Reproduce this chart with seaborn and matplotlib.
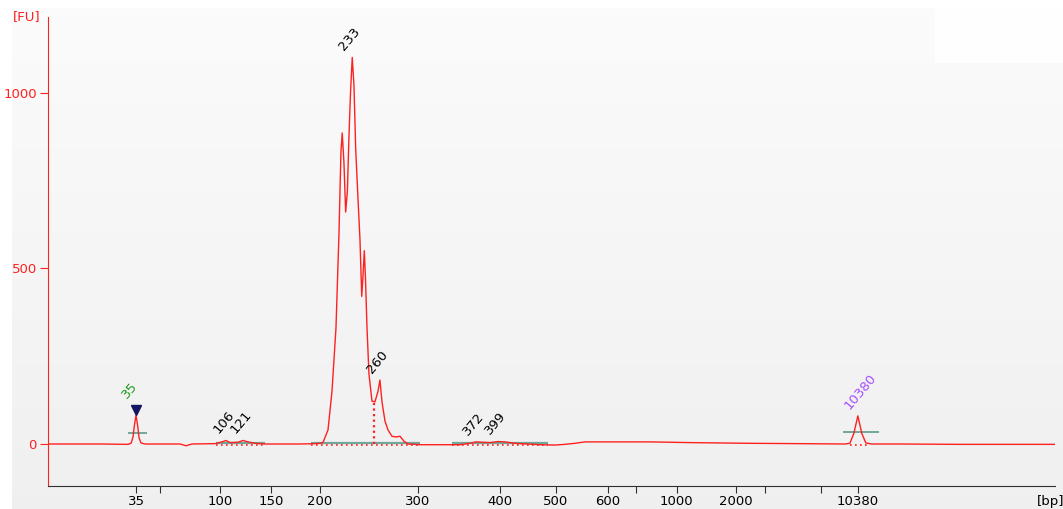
import numpy as np
import pandas as pd
import matplotlib
matplotlib.use("Agg")
import matplotlib.pyplot as plt
import seaborn as sns

# ladder: migratietijd (s) -> bp label (lege string = tick zonder label)
ladder_time = [43.0, 45.23, 50.80, 55.53, 60.08, 69.17, 76.78, 81.98, 86.80, 89.40, 93.20, 98.68, 101.37, 106.57, 110.0]
ladder_bp = ["35", "", "100", "150", "200", "300", "400", "500", "600", "", "1000", "2000", "", "", "10380"]

# elektroferogram (tijd in s, signaal in FU)
trace_time = [34.83, 39.66, 42.26, 42.54, 42.72, 42.86, 43.00, 43.14, 43.28, 43.46, 43.84,
              47.08, 47.64, 48.20, 50.33, 50.98, 51.35, 51.72, 52.47, 52.93, 53.39, 54.04, 54.97,
              58.22, 59.61, 60.08, 60.35, 60.82, 61.19, 61.56, 61.84, 62.02, 62.14, 62.30, 62.46,
              62.62, 62.77, 62.91, 63.07, 63.23, 63.39, 63.60, 63.79, 63.95, 64.07, 64.19, 64.30,
              64.44, 64.62, 64.90, 65.18, 65.46, 65.64, 65.83, 66.11, 66.39, 66.76, 67.13, 67.50,
              67.87, 68.24, 69.36, 73.07, 74.00, 74.55, 75.11, 75.85, 76.59, 77.24, 78.17, 80.49,
              81.88, 82.81, 83.74, 84.67, 90.70, 94.41, 99.98, 104.62, 108.80, 109.26, 109.63,
              110.00, 110.37, 110.74, 111.30, 113.90, 119.47, 128.28]
trace_fu = [0, 0, -1, 2, 20, 55, 82, 55, 18, 3, 0,
            0, -5, 0, 1, 6, 10, 4, 5, 10, 6, 2, 0,
            0, 1, 2, 4, 40, 150, 330, 600, 830, 885, 800, 660,
            720, 880, 1000, 1100, 1020, 840, 700, 580, 420, 480, 550, 470,
            330, 200, 122, 120, 150, 182, 120, 65, 40, 22, 20, 22,
            8, 0, -2, -2, 2, 6, 5, 4, 7, 6, 2, -2,
            -3, -1, 2, 6, 6, 4, 2, 1, 0, 2, 30,
            80, 30, 3, 0, 0, -1, -1]

# gelabelde pieken
peak_time = [43.0, 51.35, 52.93, 63.07, 65.64, 74.55, 76.59, 110.0]
peak_fu = [82, 10, 10, 1100, 182, 6, 7, 80]
peak_label = ["35", "106", "121", "233", "260", "372", "399", "10380"]
peak_color = ["#1f9a1f", "black", "black", "black", "black", "black", "black", "#a64dff"]

# integratie-regio's (start, eind)
region_start = [50.42, 59.24, 72.33]
region_end = [54.97, 69.36, 81.23]
marker_start = [42.26, 108.6]
marker_end = [44.02, 111.95]
marker_level = [31, 34]

df = pd.DataFrame({"time": trace_time, "fu": trace_fu})

sns.set_style("white")
plt.rcParams["font.family"] = ["DejaVu Sans"]

fig = plt.figure(figsize=(10.63, 5.09), dpi=100, facecolor="white")

# grijze achtergrond met lichte gradient
bg = fig.add_axes([12 / 1063, 0, 1, 1 - 8 / 509])
grad = np.linspace(0.985, 0.94, 100).reshape(-1, 1)
bg.imshow(np.dstack([grad, grad, grad]), aspect="auto", extent=[0, 1, 0, 1])
bg.axis("off")
fig.patches.append(plt.Rectangle((935 / 1063, 1 - 62 / 509), 1, 54 / 509,
                                 transform=fig.transFigure, color="#fefefe", zorder=0.5))

ax = fig.add_axes([48 / 1063, 1 - 486 / 509, (1055 - 48) / 1063, (486 - 17) / 509])
ax.set_facecolor("none")

sns.lineplot(data=df, x="time", y="fu", ax=ax, color="#ff2020", linewidth=1.0, sort=False)

# integratie-basislijnen
for s, e in zip(region_start, region_end):
    ax.hlines(2, s, e, color="#6fa898", linewidth=1.6, zorder=1)
    ax.hlines(-2, s, e, color="#ff2020", linewidth=1.2, linestyles=(0, (1, 2)), zorder=1)
for s, e, lv in zip(marker_start, marker_end, marker_level):
    ax.hlines(lv, s, e, color="#6fa898", linewidth=1.4, zorder=1)
ax.hlines(-2, 109.3, 111.1, color="#ff2020", linewidth=1.2, linestyles=(0, (1, 2)))
ax.vlines(65.09, 0, 125, color="#ff2020", linewidth=1.6, linestyles=(0, (1, 1.5)))

# lower marker driehoek
ax.plot(43.0, 97, marker="v", color="#141464", markersize=7)

for t, f, lab, c in zip(peak_time, peak_fu, peak_label, peak_color):
    dx, dy = (-5, 10) if lab == "35" else (-4, 3)
    ax.annotate(lab, (t, f), xytext=(dx, dy), textcoords="offset points", rotation=50,
                rotation_mode="anchor", ha="left", va="bottom", color=c, fontsize=9.5)

ax.set_xlim(34.83, 128.3)
ax.set_ylim(-119.5, 1215)
ax.set_xticks(ladder_time)
ax.set_xticklabels(ladder_bp)
ax.set_yticks([0, 500, 1000])
ax.set_xlabel("")
ax.set_ylabel("")

for side in ["top", "right"]:
    ax.spines[side].set_visible(False)
ax.spines["left"].set_color("#ff2020")
ax.spines["bottom"].set_color("#303030")
ax.tick_params(axis="y", colors="#ff2020", length=6, labelsize=9.5, direction="out", left=True, pad=2)
ax.tick_params(axis="x", colors="#303030", length=5, labelsize=9.5, direction="out", bottom=True, pad=1.5)
for lbl in ax.get_xticklabels():
    lbl.set_color("black")

fig.text(13 / 1063, 1 - 17 / 509, "[FU]", color="#ff2020", fontsize=9.5, va="center", ha="left")
fig.text(1037 / 1063, 1 - 501 / 509, "[bp]", color="black", fontsize=9.5, va="center", ha="left")

fig.savefig("out.png", dpi=100, facecolor=fig.get_facecolor())
